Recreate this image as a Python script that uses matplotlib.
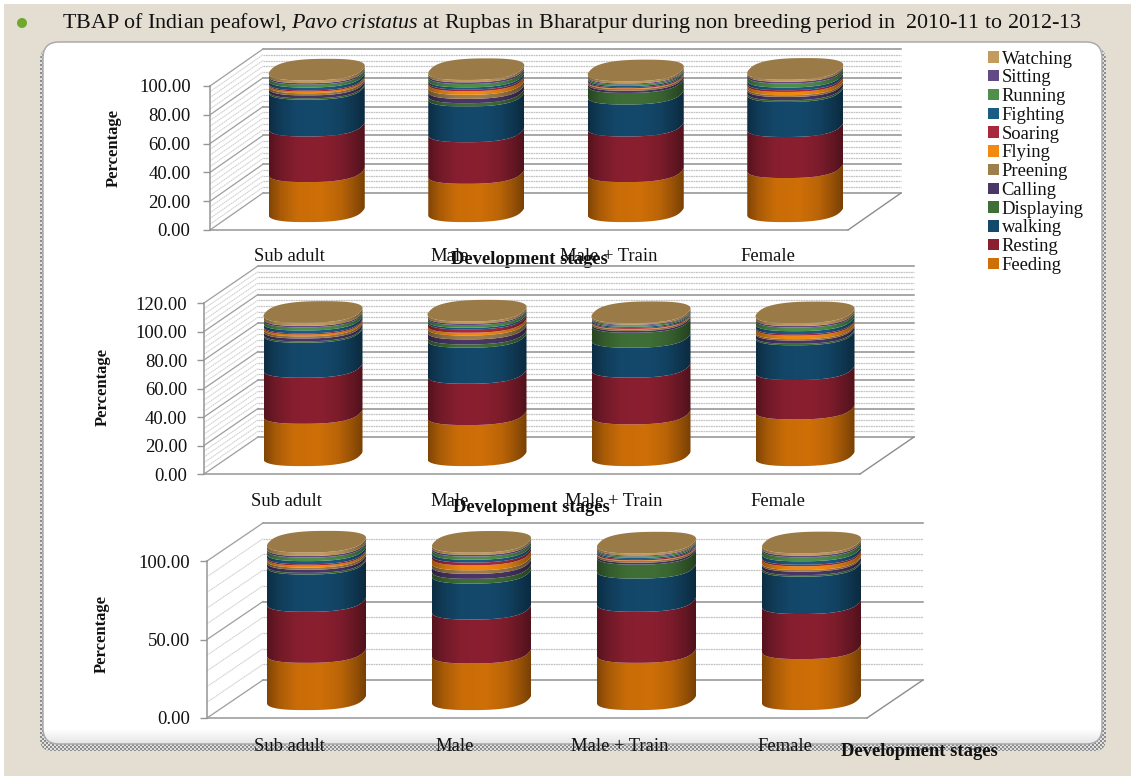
import numpy as np
import matplotlib
matplotlib.use("Agg")
import matplotlib.pyplot as plt
from matplotlib.colors import to_rgb
from matplotlib.patches import Circle, FancyBboxPatch, Patch, Polygon

plt.rcParams["font.family"] = ["Liberation Serif", "DejaVu Serif"]
plt.rcParams["mathtext.fontset"] = "custom"
plt.rcParams["mathtext.rm"] = "Liberation Serif"
plt.rcParams["mathtext.it"] = "Liberation Serif:italic"
plt.rcParams["mathtext.bf"] = "Liberation Serif:bold"

W, H = 1131, 776

activities = ["Feeding", "Resting", "walking", "Displaying", "Calling", "Preening",
              "Flying", "Soaring", "Fighting", "Running", "Sitting", "Watching"]
stages = ["Sub adult", "Male", "Male + Train", "Female"]
colors = ["#CE6F08", "#8A1F30", "#14496C", "#3F6F36", "#4A3768", "#9E7E4C",
          "#F28A10", "#A8293E", "#1C5B84", "#4F8F4B", "#614A85", "#C49B5E"]
top_color = "#9A7B48"

# Percentage of time per activity, one list per stage, for each of the three years
y1_sub_adult = [27.8, 31.7, 25.5, 1.0, 2.0, 1.5, 1.2, 0.8, 2.0, 2.0, 1.0, 1.9]
y1_male = [26.6, 28.9, 24.8, 2.3, 3.0, 2.8, 2.5, 1.2, 1.5, 2.3, 1.2, 1.6]
y1_train = [27.8, 31.7, 22.2, 8.0, 1.5, 1.2, 0.5, 0.8, 0.9, 1.0, 0.7, 1.5]
y1_female = [30.6, 28.5, 24.3, 1.2, 2.3, 1.2, 2.3, 1.2, 1.9, 2.8, 1.2, 1.4]

y2_sub_adult = [29.7, 32.3, 24.6, 1.0, 2.0, 1.5, 1.3, 0.8, 2.0, 2.2, 1.0, 2.2]
y2_male = [28.8, 29.0, 25.3, 2.3, 3.5, 2.8, 1.9, 2.3, 1.2, 1.9, 0.9, 1.6]
y2_train = [29.3, 32.8, 21.0, 10.5, 1.2, 1.1, 0.4, 0.7, 0.8, 0.9, 0.6, 1.1]
y2_female = [32.8, 27.6, 24.4, 1.0, 2.3, 1.0, 2.5, 0.9, 2.2, 2.6, 1.0, 2.0]

y3_sub_adult = [30.1, 32.5, 23.8, 1.0, 2.0, 1.4, 1.3, 0.8, 2.0, 2.3, 1.0, 2.2]
y3_male = [29.7, 28.0, 22.9, 3.0, 3.2, 2.2, 3.2, 1.8, 1.8, 2.0, 1.0, 1.5]
y3_train = [30.1, 32.5, 21.2, 8.9, 1.2, 1.1, 0.4, 0.8, 0.8, 0.9, 0.6, 1.3]
y3_female = [32.5, 28.7, 23.8, 1.0, 2.2, 1.0, 2.4, 1.0, 2.2, 2.6, 1.0, 1.5]

y1_table = [y1_sub_adult, y1_male, y1_train, y1_female]
y2_table = [y2_sub_adult, y2_male, y2_train, y2_female]
y3_table = [y3_sub_adult, y3_male, y3_train, y3_female]

fig = plt.figure(figsize=(W / 100, H / 100), dpi=100, facecolor="white")

# Backdrop axes in pixel units: page colour, card, title
bg = fig.add_axes([0, 0, 1, 1])
bg.set_xlim(0, W)
bg.set_ylim(H, 0)
bg.axis("off")
bg.add_patch(plt.Rectangle((4, 4), W, H, fc="#E3DDD2", ec="none", zorder=0))

yy, xx = np.mgrid[0:H, 0:W]
stipple = np.where((xx // 2 + yy // 2) % 2 == 0, 0.55, 0.88)
shadow = FancyBboxPatch((40, 48), 1066, 703, boxstyle="round,pad=0,rounding_size=12",
                        fc="none", ec="none", transform=bg.transData)
bg.add_patch(shadow)
im = bg.imshow(stipple, cmap="gray", vmin=0, vmax=1, extent=(0, W, H, 0),
               interpolation="nearest", aspect="auto", zorder=1)
im.set_clip_path(shadow)

card = FancyBboxPatch((43, 42), 1059, 702, boxstyle="round,pad=0,rounding_size=16",
                      fc="white", ec="none", zorder=2)
bg.add_patch(card)
fade = np.ones((60, 1))
fade[43:, 0] = np.linspace(1.0, 0.89, 17)
im2 = bg.imshow(fade, cmap="gray", vmin=0, vmax=1, extent=(43, 1102, 745, 685),
                aspect="auto", zorder=3)
im2.set_clip_path(card)
bg.add_patch(FancyBboxPatch((43, 42), 1059, 702, boxstyle="round,pad=0,rounding_size=16",
                            fc="none", ec="#ABABAB", lw=1.1, zorder=4))
bg.set_xlim(0, W)
bg.set_ylim(H, 0)

bg.add_patch(Circle((22, 23), 5, fc="#6FA82A", ec="none", zorder=4))
bg.text(62, 23, r"TBAP of Indian peafowl, $\mathit{Pavo\ cristatus}$ at Rupbas in Bharatpur "
        "during non breeding period in  2010-11 to 2012-13",
        fontsize=15.85, va="center", ha="left", color="#111111", zorder=4)

RAMP = np.array([[0.0, 0.62], [0.12, 0.82], [0.3, 0.98], [0.55, 1.0], [0.75, 0.9], [0.9, 0.72], [1.0, 0.58]])
RIM_HALF_HEIGHT = 10.8
BASE_LIFT = 18.7


def band_shade(color):
    s = np.interp(np.linspace(0, 1, 200), RAMP[:, 0], RAMP[:, 1])
    return (np.array(to_rgb(color))[None, None, :] * s[None, :, None]).clip(0, 1)


def rim(half_w_px, half_h_px, px_cat, px_per_unit):
    """Rounded, slanted outline of a cylinder end, as offsets in data units."""
    t = np.linspace(0, 2 * np.pi, 361)[:-1]
    c, s = np.cos(t), np.sin(t)
    u = np.sign(c) * np.abs(c) ** 0.78
    v = np.sign(s) * np.abs(s) ** 0.78
    x = u + 0.22 * v
    x = x / x.max() * half_w_px / px_cat
    y = v * half_h_px / px_per_unit
    i_l, i_r = int(np.argmin(x)), int(np.argmax(x))
    order = (np.arange(i_l, i_r + 360 + 1 if i_r < i_l else i_r + 1)) % 360
    return x, y, x[order], y[order]


def draw_panel(table, x0, x1, y0, ymax, px_per_unit, back_dx, back_dy, half_w,
               major, minor, ticks, label_xy, ylabel_xy, tick_pad, x_pad):
    ytop = y0 - ymax * px_per_unit
    ax = fig.add_axes([x0 / W, 1 - y0 / H, (x1 - x0) / W, (y0 - ytop) / H])
    ax.patch.set_visible(False)
    n = len(stages)
    xlim, ylim = (-0.5, n - 0.5), (0, ymax)
    px_cat = (x1 - x0) / n

    # Pixel offsets expressed in data units
    ddx, ddy = back_dx / px_cat, back_dy / px_per_unit

    # Back wall and left wall rules
    for v in np.arange(0, ymax + 1e-6, minor):
        is_major = abs(v / major - round(v / major)) < 1e-6
        col, lw, ls = ("#909090", 1.1, "-") if is_major else ("#C4C4C4", 0.9, (0, (1.5, 0.5)))
        ax.plot([xlim[0] + ddx, xlim[1] + ddx], [v + ddy, v + ddy], color=col, lw=lw, ls=ls,
                clip_on=False, zorder=1)
        side = "#A0A0A0" if is_major else "#D0D0D0"
        ax.plot([xlim[0], xlim[0] + ddx], [v, v + ddy], color=side, lw=lw * 0.85, ls=ls,
                clip_on=False, zorder=1)
    ax.plot([xlim[1], xlim[1] + ddx], [0, ddy], color="#8C8C8C", lw=1.0, clip_on=False, zorder=1)

    # Stacked cylinders
    a = half_w / px_cat
    ry = RIM_HALF_HEIGHT / px_per_unit
    full_x, full_y, front_x, front_y = rim(half_w, RIM_HALF_HEIGHT, px_cat, px_per_unit)

    for i, vals in enumerate(table):
        cx = i + 27.0 / px_cat
        base = BASE_LIFT / px_per_unit
        edge = np.cumsum([0] + list(vals)) + base
        for k, col in enumerate(colors):
            lo_x = cx + front_x
            pts = np.r_[np.c_[lo_x, edge[k] + front_y], np.c_[lo_x[::-1], edge[k + 1] + front_y[::-1]]]
            shape = Polygon(pts, closed=True, fc="none", ec="none", transform=ax.transData)
            ax.add_patch(shape)
            img = ax.imshow(band_shade(col), extent=(cx - a, cx + a, edge[k] - 2 * ry, edge[k + 1] + 2 * ry),
                            aspect="auto", origin="lower", zorder=3 + k * 0.01)
            img.set_clip_box(fig.bbox)
            img.set_clip_path(shape)
        ax.fill(cx + full_x, edge[-1] + full_y, color=top_color, lw=0, zorder=3.5, clip_on=False)

    ax.set_xlim(*xlim)
    ax.set_ylim(*ylim)
    for side in ("top", "right"):
        ax.spines[side].set_visible(False)
    for side in ("left", "bottom"):
        ax.spines[side].set_color("#969696")
        ax.spines[side].set_linewidth(1.1)
    ax.set_xticks(range(n), stages, fontsize=13.4)
    ax.set_yticks(ticks, [f"{v:.2f}" for v in ticks], fontsize=13.5)
    ax.tick_params(axis="x", length=0, pad=x_pad)
    ax.tick_params(axis="y", length=5, width=1, color="#969696", pad=tick_pad)
    for lab in ax.get_xticklabels() + ax.get_yticklabels():
        lab.set_color("#111111")
    ax.set_xlabel("Development stages", fontsize=13.4, fontweight="bold", color="#111111")
    ax.xaxis.set_label_coords(*label_xy, transform=bg.transData)
    ax.set_ylabel("Percentage", fontsize=12, fontweight="bold", color="#111111")
    ax.yaxis.set_label_coords(*ylabel_xy, transform=bg.transData)
    ax.xaxis.label.set_va("center")
    ax.yaxis.label.set_va("center")
    return ax


draw_panel(y1_table, 210, 848, 230, 100, 1.44, 53, 37, 48, 20, 4, [0, 20, 40, 60, 80, 100],
           (529, 259), (114, 148), 9, 12.7)
draw_panel(y2_table, 204, 860, 474, 120, 1.425, 54, 37, 49.5, 20, 4, [0, 20, 40, 60, 80, 100, 120],
           (531, 507), (103, 387), 7, 13.4)
draw_panel(y3_table, 207, 867, 718, 100, 1.57, 56, 38, 49.5, 50, 10, [0, 50, 100],
           (919, 751), (102, 634), 7, 14.1)

handles = [Patch(fc=c, ec="none", label=name) for c, name in zip(colors, activities)][::-1]
fig.legend(handles=handles, loc="upper left", bbox_to_anchor=(982.5 / W, 1 - 45 / H), frameon=False,
           fontsize=13.4, labelspacing=0.095, handlelength=0.56, handleheight=0.56, handletextpad=0.17,
           borderpad=0.3, borderaxespad=0, labelcolor="#111111")

fig.savefig("out.png", dpi=100)
